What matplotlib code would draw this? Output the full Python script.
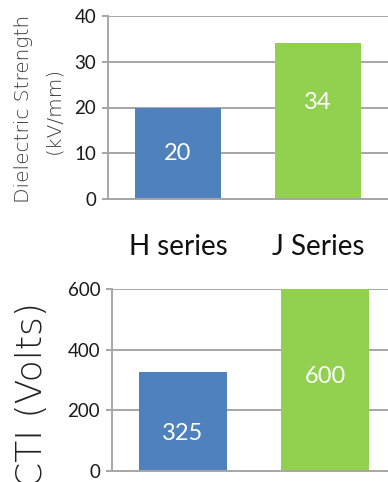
import numpy as np
import matplotlib.pyplot as plt
import matplotlib as mpl

mpl.rcParams['font.family'] = ['Lato', 'DejaVu Sans']

series = ['H series', 'J Series']
dielectric = [20, 34]
cti = [325, 600]
bar_colors = ['#4F81BD', '#92D050']
grid_col = '#A6A6A6'

fig = plt.figure(figsize=(3.88, 4.82), dpi=100)

def style(ax, top, ticks):
    ax.set_xlim(-0.5, 1.5)
    ax.set_ylim(0, top)
    ax.set_yticks(ticks)
    ax.yaxis.grid(True, color=grid_col, lw=1.4)
    ax.set_axisbelow(True)
    for s in ['top', 'right']:
        ax.spines[s].set_visible(False)
    for s in ['left', 'bottom']:
        ax.spines[s].set_color(grid_col)
        ax.spines[s].set_linewidth(1.4)
    ax.tick_params(axis='y', length=4.5, width=1.4, color=grid_col,
                   labelsize=13.5, labelcolor='#1a1a1a', pad=4)

# dielectric strength
ax1 = fig.add_axes([108/388, 1-199/482, 280/388, 183/482])
x = np.arange(len(series))
ax1.bar(x, dielectric, width=0.62, color=bar_colors)
style(ax1, 40, [0, 10, 20, 30, 40])
ax1.set_xticks(x)
ax1.set_xticklabels(series, fontsize=20, color='#111111')
ax1.tick_params(axis='x', length=0, pad=25)
for xi, v, f in zip(x, dielectric, [0.5, 0.62]):
    ax1.text(xi, v*f, str(v), ha='center', va='center', color='white', fontsize=17)
fig.text(24/388, 1-109/482, 'Dielectric Strength', rotation=90,
         ha='center', va='center', fontsize=14.5, color='#3a3a3a',
         family='DejaVu Sans', fontweight='light')
fig.text(54/388, 1-110/482, '(kV/mm)', rotation=90,
         ha='center', va='center', fontsize=14.5, color='#3a3a3a',
         family='DejaVu Sans', fontweight='light')

# CTI
ax2 = fig.add_axes([112/388, 1-471/482, 284/388, 182/482])
ax2.bar(x, cti, width=0.62, color=bar_colors)
style(ax2, 600, [0, 200, 400, 600])
ax2.set_xticks([])
for xi, v, f in zip(x, cti, [0.385, 0.52]):
    ax2.text(xi, v*f, str(v), ha='center', va='center', color='white', fontsize=17)
fig.text(32/388, 1-302/482, 'CTI (Volts)', rotation=90, rotation_mode='anchor',
         ha='right', va='center', fontsize=26, color='#222222',
         family='DejaVu Sans', fontweight='light')

fig.savefig('out.png', dpi=100)
